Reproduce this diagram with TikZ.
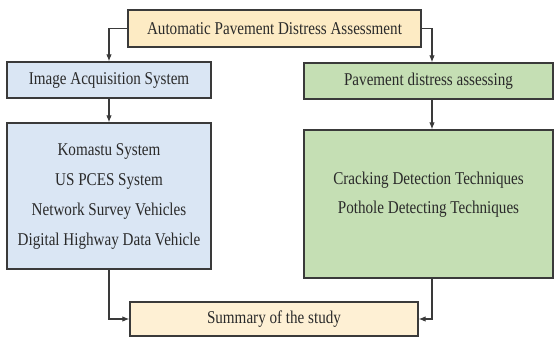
\documentclass[tikz,border=0pt]{standalone}
\usepackage{fontspec}
\newfontfamily\diagfont[FakeStretch=0.84]{Liberation Serif}
\usetikzlibrary{arrows.meta}
\definecolor{boxline}{HTML}{3A3A3A}
\definecolor{yel}{HTML}{FDEBC4}
\definecolor{yel2}{HTML}{FEF0D4}
\definecolor{blu}{HTML}{DAE6F4}
\definecolor{grn}{HTML}{C5DFB4}
\definecolor{txt}{HTML}{2A2A2A}
\tikzset{
  box/.style={draw=boxline, line width=1.3pt, inner sep=0pt, align=center,
    text=txt, font=\diagfont\fontsize{18}{30}\selectfont},
  arr/.style={draw=boxline, line width=1.1pt, -{Latex[length=7pt,width=5.5pt]}},
  lbl/.style={inner sep=0pt, align=center, text=txt, font=\diagfont\fontsize{18}{29}\selectfont}
}
\begin{document}
\begin{tikzpicture}[x=1pt,y=-1pt]
\useasboundingbox (0,0) rectangle (555,338);
\node[box, fill=yel, minimum width=293pt, minimum height=37pt] (top) at (274.5,28.5) {Automatic Pavement Distress Assessment};
\node[box, fill=blu, minimum width=204pt, minimum height=36pt] (img) at (109,80) {Image Acquisition System};
\node[box, fill=grn, minimum width=249pt, minimum height=36pt] (pav) at (428.5,81) {Pavement distress assessing};
\node[box, fill=blu, minimum width=204pt, minimum height=146pt] (lbig) at (109,196) {Komastu System\\US PCES System\\Network Survey Vehicles\\Digital Highway Data Vehicle};
\node[box, fill=grn, minimum width=249pt, minimum height=148pt] (rbig) at (428.5,204) {};
\node[lbl] (rtxt) at (428.5,195) {Cracking Detection Techniques\\Pothole Detecting Techniques};
\node[box, fill=yel2, minimum width=288pt, minimum height=34pt] (sum) at (274,319) {Summary of the study};
\draw[arr] (top.west) -| (img.north);
\draw[arr] (top.east) -| ([xshift=3.5pt]pav.north);
\draw[arr] (img.south) -- (lbig.north);
\draw[arr] ([xshift=3.5pt]pav.south) -- ([xshift=3.5pt]rbig.north);
\draw[arr] (lbig.south) |- (sum.west);
\draw[arr] ([xshift=3.5pt]rbig.south) |- (sum.east);
\end{tikzpicture}
\end{document}
